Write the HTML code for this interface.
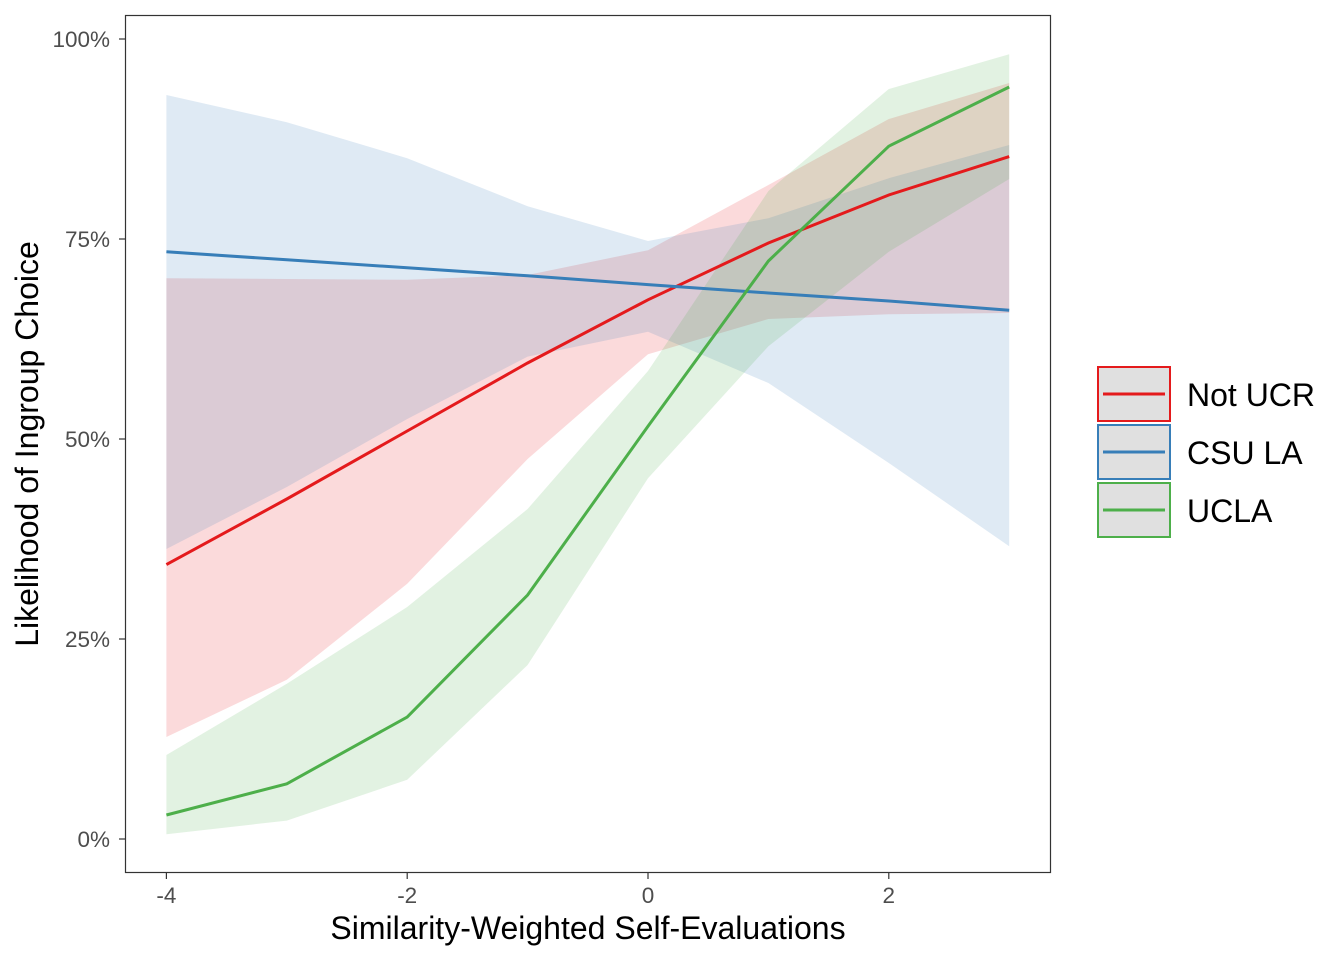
<!DOCTYPE html>
<html><head><meta charset="utf-8"><style>
html,body{margin:0;padding:0;background:#fff;}
svg{display:block;font-family:"Liberation Sans",Arial,sans-serif;}
</style></head><body>
<svg id="chart" width="1344" height="960">
<g id="bands"></g>
<g id="lines"></g>
<rect x="125.5" y="15.5" width="925" height="857" fill="none" stroke="#333" stroke-width="1.2"/>
<g id="axes"></g>
<text x="588" y="939" font-size="32" text-anchor="middle" fill="#000">Similarity-Weighted Self-Evaluations</text>
<text transform="translate(38,444) rotate(-90)" font-size="32" text-anchor="middle" fill="#000">Likelihood of Ingroup Choice</text>
<g id="legend"></g>
</svg>
<script>
const xs = [-4,-3,-2,-1,0,1,2,3];
const seriesNames = ["Not UCR","CSU LA","UCLA"];
const colors = ["#E41A1C","#377EB8","#4DAF4A"];
const redFit = [34.3,42.5,51,59.5,67.4,74.5,80.5,85.3];
const redLow = [12.75,19.9,31.9,47.5,60.6,65,65.6,65.75];
const redHigh = [70.1,70,69.9,70.5,73.6,81.75,90,94.5];
const blueFit = [73.4,72.4,71.4,70.4,69.3,68.25,67.25,66.1];
const blueLow = [36.25,44,52.5,60.3,63.4,57,47,36.6];
const blueHigh = [93,89.6,85.1,79.1,74.75,77.6,82.6,86.75];
const greenFit = [3,6.9,15.25,30.5,51.6,72.25,86.6,94];
const greenLow = [0.6,2.3,7.4,21.75,45.1,61.6,73.4,82.5];
const greenHigh = [10.5,19.4,29,41.25,58.5,81,93.75,98.1];
const xTicks = [-4,-2,0,2];
const yTicks = [0,25,50,75,100];

const NS="http://www.w3.org/2000/svg";
const sx = v => 648 + v*120.4;
const sy = v => 839 - v*8;
function mk(tag, attrs, parent){const e=document.createElementNS(NS,tag);for(const k in attrs)e.setAttribute(k,attrs[k]);parent.appendChild(e);return e;}
const bands=document.getElementById('bands'), lines=document.getElementById('lines'), axes=document.getElementById('axes'), legend=document.getElementById('legend');
const fits=[redFit,blueFit,greenFit], lows=[redLow,blueLow,greenLow], highs=[redHigh,blueHigh,greenHigh];
const keys=["not-ucr","csu-la","ucla"];
for(let s=0;s<3;s++){
  let d=xs.map((x,i)=>(i?'L':'M')+sx(x)+','+sy(highs[s][i])).join(' ');
  for(let i=xs.length-1;i>=0;i--) d+=' L'+sx(xs[i])+','+sy(lows[s][i]);
  const b=mk('path',{d:d+'Z',fill:colors[s],'fill-opacity':0.16},bands);
  
  
}
for(let s=0;s<3;s++){
  const d=xs.map((x,i)=>(i?'L':'M')+sx(x)+','+sy(fits[s][i])).join(' ');
  const l=mk('path',{d:d,fill:'none',stroke:colors[s],'stroke-width':3},lines);
  
  
}
xTicks.forEach(t=>{
  mk('line',{x1:sx(t),x2:sx(t),y1:873,y2:879,stroke:'#333','stroke-width':1.2},axes);
  const tx=mk('text',{x:sx(t),y:903,'font-size':22.5,'text-anchor':'middle',fill:'#4d4d4d'},axes);
  tx.textContent=t;
  
  
});
yTicks.forEach(t=>{
  mk('line',{x1:119,x2:125,y1:sy(t),y2:sy(t),stroke:'#333','stroke-width':1.2},axes);
  const tx=mk('text',{x:110,y:sy(t)+8,'font-size':22.5,'text-anchor':'end',fill:'#4d4d4d'},axes);
  tx.textContent=t+'%';
  
  
});
for(let s=0;s<3;s++){
  const y0=367+s*58;
  const g=mk('g',{},legend);
  
  
  mk('rect',{x:1098,y:y0,width:72,height:54,fill:'#e0e0e0',stroke:colors[s],'stroke-width':2},g);
  mk('line',{x1:1103,x2:1165,y1:y0+27,y2:y0+27,stroke:colors[s],'stroke-width':3},g);
  const tx=mk('text',{x:1187,y:y0+39,'font-size':32,fill:'#000'},g);
  tx.textContent=seriesNames[s];
}
</script>
</body></html>
